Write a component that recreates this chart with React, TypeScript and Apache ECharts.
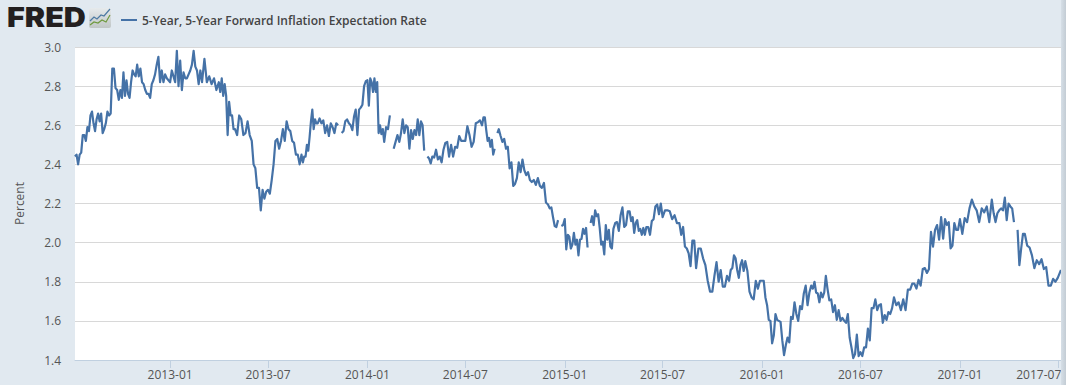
import React, { useEffect, useRef } from "react";
import * as echarts from "echarts";

const seriesName = "5-Year, 5-Year Forward Inflation Expectation Rate";
const yTicks = { min: 1.4, max: 3.0, step: 0.2 };
const tickLabels = ["2013-01","2013-07","2014-01","2014-07","2015-01","2015-07","2016-01","2016-07","2017-01","2017-07"];

type M = (number | null)[];
// each list: one calendar month of readings, from 2012-07 to 2017-07
const y2012: M[] = [
  [2.44,2.45,2.40,2.45,2.46,2.55,2.55,2.52],
  [2.59,2.57,2.65,2.67,2.61,2.57,2.63,2.66,2.62,2.66,2.56],
  [2.58,2.61,2.67,2.65,2.66,2.89,2.89,2.79,2.78,2.73],
  [2.78,2.74,2.87,2.75,2.83,2.76,2.74,2.82,2.88,2.86,2.85],
  [2.91,2.85,2.89,2.82,2.81,2.78,2.76,2.76,2.74,2.81],
  [2.83,2.86,2.91,2.95,2.82,2.88,2.82,2.86,2.84,2.83],
];
const y2013: M[] = [
  [2.82,2.88,2.85,2.82,2.98,2.80,2.93,2.78,2.87,2.84],
  [2.84,2.86,2.88,2.91,2.98,2.90,2.88,2.81,2.88],
  [2.82,2.94,2.82,2.85,2.81,2.84,2.78],
  [2.82,2.77,2.84,2.75,2.81,2.75,2.55,2.72,2.65,2.65,2.58],
  [2.58,2.55,2.65,2.63,2.55,2.56,2.62,2.55],
  [2.52,2.40,2.38,2.28,2.28,2.165,2.27,2.225,2.26],
  [2.27,2.25,2.32,2.40,2.52,2.53,2.48,2.52,2.58],
  [2.52,2.62,2.58,2.57,2.52,2.51,2.45,2.45,2.40],
  [2.45,2.41,2.44,2.44,2.50,2.47,2.54,2.62,2.68,2.58,2.63,2.61],
  [2.61,2.635,2.61,2.625,2.56,2.60,2.545,2.61,2.59],
  [2.56,2.61,2.60,null,2.56,2.57,2.62,2.63,2.61],
  [2.60,2.575,2.645,2.68,2.55,2.68,2.69,2.705,2.80,2.825],
];
const y2014: M[] = [
  [2.83,2.70,2.84,2.82,2.77,2.84,2.77,2.82,2.56,2.60,2.555,2.58],
  [2.515,2.59,2.58,2.65,null,2.48,2.515,2.55],
  [2.515,2.56,2.63,2.56,2.60,2.59,2.48,2.575,2.53,2.575],
  [2.55,2.63,2.55,2.62,2.60,2.47,null,2.44,2.43,2.405],
  [2.44,2.435,2.475,2.425,2.44,2.41,2.475,2.51,2.515],
  [2.44,2.50,2.44,2.49,2.485,2.545,2.52,2.52],
  [2.52,2.595,2.55,2.49,2.515,2.61,2.615,2.625],
  [2.60,2.64,2.64,2.575,2.52,2.535,2.49,2.525,2.45,2.48,null,2.56],
  [2.58,2.545,2.515,2.53,2.48,2.49,2.38,2.41,2.29],
  [2.30,2.33,2.41,2.36,2.425,2.37,2.345,2.36,2.32],
  [2.31,2.32,2.295,2.33,2.29,2.28,2.305,2.205],
  [2.195,2.175,2.18,2.13,2.085,2.08,2.115,null,2.085,2.09],
];
const y2015: M[] = [
  [2.12,1.965,2.04,2.03,1.97,1.99,2.05,1.99,2.015,1.935,2.015],
  [2.02,2.07,2.045,2.075,1.975,null,2.10,2.135,2.09,2.165],
  [2.135,2.145,2.075,1.99,2.005,1.94,2.09,2.015,2.065,1.98,1.97],
  [2.07,2.10,2.105,2.06,2.14,2.18,2.08,2.09,2.16],
  [2.16,2.11,2.13,2.05,2.10,2.115,2.06,2.07,2.04,2.075,2.04],
  [2.08,2.08,2.04,2.11,2.12,2.185,2.195,2.145,2.20],
  [2.13,2.165,2.165,2.16,2.12,2.14,2.10],
  [2.10,2.04,2.08,1.98,1.97,1.945,1.88,2.01,2.01],
  [1.87,1.97,1.97,1.92,1.885,1.805,1.75],
  [1.75,1.83,1.90,1.80,1.86,1.775,1.775,1.83],
  [1.805,1.86,1.87,1.935,1.92,1.86,1.82,1.885,1.91,1.855],
  [1.905,1.855,1.75,1.72,1.71,1.805,1.765,1.805],
];
const y2016: M[] = [
  [1.805,1.805,1.72,1.68,1.605,1.60,1.485,1.525,1.635,1.605],
  [1.60,1.595,1.50,1.425,1.475,1.515,1.49,1.62,1.61],
  [1.695,1.635,1.60,1.675,1.66,1.74,1.78,1.68,1.745],
  [1.78,1.765,1.80,1.745,1.74,1.695,1.745,1.72,1.745,1.83],
  [1.765,1.705,1.71,1.645,1.68,1.605,1.655,1.60,1.615],
  [1.60,1.59,1.635,1.515,1.465,1.41,1.43,1.53,1.42],
  [1.44,1.42,1.465,1.465,1.56,1.50,1.665,1.665,1.71],
  [1.655,1.68,1.685,1.59,1.63,1.605,1.645,1.635,1.665],
  [1.72,1.68,1.695,1.655,1.71,1.655,1.76],
  [1.76,1.79,1.79,1.765,1.81,1.78,1.865,1.87],
  [1.845,1.865,2.055,1.98,2.065,2.09,2.015,2.13],
  [2.02,2.12,2.09,2.105,1.97,1.985,2.10,2.065,2.065],
];
const y2017: M[] = [
  [2.12,2.045,2.125,2.105,2.175,2.22,2.185],
  [2.165,2.105,2.175,2.155,2.185,2.105],
  [2.22,2.15,2.105,2.15,2.165,2.175,2.165,2.23,2.115],
  [2.20,2.185,2.175,2.105,null,2.065,1.885,1.97,2.045],
  [2.045,1.985,1.975,1.935,1.87,1.91,1.89],
  [1.915,1.865,1.875,1.78,1.78,1.815,1.80],
  [1.82,1.84,1.86],
];

const months = [...y2012, ...y2013, ...y2014, ...y2015, ...y2016, ...y2017];
const START = Date.UTC(2012, 6, 9);
const END = Date.UTC(2017, 6, 7);

function buildSeries(): [number, number | null][] {
  const out: [number, number | null][] = [];
  months.forEach((vals, idx) => {
    const from = idx === 0 ? START : Date.UTC(2012, 6 + idx, 1);
    const last = idx === months.length - 1;
    const to = last ? END : Date.UTC(2012, 6 + idx + 1, 1);
    vals.forEach((v, i) => {
      const f = last ? i / (vals.length - 1) : i / vals.length;
      out.push([from + (to - from) * f, v]);
    });
  });
  return out;
}

const tickTimes = tickLabels.map((s) => {
  const [y, m] = s.split("-").map(Number);
  return Date.UTC(y, m - 1, 1);
});

export default function App() {
  const ref = useRef<HTMLDivElement>(null);
  useEffect(() => {
    document.body.style.margin = "0";
    const chart = echarts.init(ref.current!, undefined, { renderer: "svg" });
    const font = "Open Sans";
    chart.setOption({
      animation: false,
      backgroundColor: "#e1e9f0",
      grid: { left: 75, right: 5, top: 47, bottom: 25, backgroundColor: "#ffffff", show: true, borderWidth: 0, outerBoundsMode: "none" },
      legend: {
        left: 116,
        top: 9,
        icon: "rect",
        itemWidth: 16,
        itemHeight: 2,
        itemGap: 6,
        data: [seriesName],
        selectedMode: false,
        textStyle: { fontFamily: font, fontSize: 12, fontWeight: 600, color: "#444444" },
      },
      xAxis: {
        type: "value",
        min: START,
        max: END,
        axisLine: { show: true, lineStyle: { color: "#c0d0e0", width: 1 } },
        axisTick: { show: true, length: 8, lineStyle: { color: "#c0d0e0" }, customValues: tickTimes },
        axisLabel: {
          customValues: tickTimes,
          hideOverlap: false,
          showMinLabel: true,
          showMaxLabel: true,
          margin: 8,
          fontFamily: font,
          fontSize: 12,
          color: "#555555",
          formatter: (v: number) => {
            const i = tickTimes.indexOf(v);
            if (i < 0) return "";
            return i === tickLabels.length - 1 ? `{end|${tickLabels[i]}}` : tickLabels[i];
          },
          rich: { end: { fontFamily: font, fontSize: 12, color: "#555555", padding: [0, 38, 0, 0] } },
        },
        splitLine: { show: false },
      },
      yAxis: {
        type: "value",
        min: yTicks.min,
        max: yTicks.max,
        interval: yTicks.step,
        name: "Percent",
        nameLocation: "middle",
        nameGap: 50,
        nameTextStyle: { fontFamily: font, fontSize: 12, color: "#555555" },
        axisLine: { show: false },
        axisTick: { show: false },
        axisLabel: {
          margin: 14,
          fontFamily: font,
          fontSize: 12,
          color: "#555555",
          formatter: (v: number) => v.toFixed(1),
        },
        splitLine: { lineStyle: { color: "#d8d8d8", width: 1 } },
      },
      series: [
        {
          name: seriesName,
          type: "line",
          data: buildSeries(),
          showSymbol: false,
          connectNulls: false,
          color: "#4572a7",
          lineStyle: { color: "#4572a7", width: 2.2, join: "round" },
          z: 5,
        },
      ],
      graphic: [
        { type: "rect", shape: { x: 1061, y: 0, width: 5, height: 385 }, style: { fill: { type: "linear", x: 0, y: 0, x2: 1, y2: 0, colorStops: [{ offset: 0, color: "#d6dfe7" }, { offset: 1, color: "#c3ccd4" }] } }, z: 10 },
        { type: "text", x: 7, y: 4, scaleX: 1.13, style: { text: "FRED", fontFamily: "Inter", fontWeight: 900, fontSize: 27, fill: "#231f20" }, z: 10 },
        { type: "rect", shape: { x: 89, y: 8, width: 22, height: 20, r: 2 }, style: { fill: { type: "linear", x: 0, y: 0, x2: 0, y2: 1, colorStops: [{ offset: 0, color: "#e6eaec" }, { offset: 1, color: "#c0c6c6" }] } }, z: 10 },
        { type: "polyline", shape: { points: [[90, 21], [94, 17], [97, 19], [101, 15], [104, 16], [110, 9]] }, style: { stroke: "#4d7aa3", lineWidth: 1.2, fill: "none" }, z: 11 },
        { type: "polyline", shape: { points: [[90, 25], [94, 22], [98, 23], [102, 20], [106, 22], [110, 15]] }, style: { stroke: "#6f9a3f", lineWidth: 1.2, fill: "none" }, z: 11 },
      ],
    });
    return () => chart.dispose();
  }, []);
  return <div ref={ref} style={{ position: "absolute", left: 0, top: 0, width: 1066, height: 385 }} />;
}
